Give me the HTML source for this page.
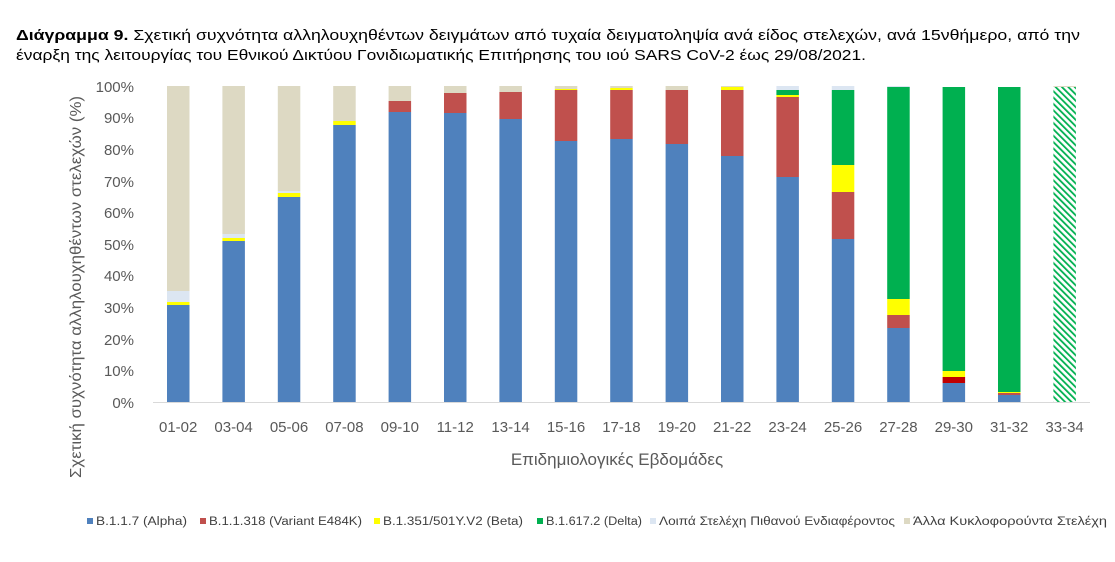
<!DOCTYPE html>
<html><head><meta charset="utf-8"><style>
html,body{margin:0;padding:0;background:#fff;width:1115px;height:562px;overflow:hidden}
svg{display:block}
text{font-family:"Liberation Sans",sans-serif}
</style></head><body>
<svg width="1115" height="562" viewBox="0 0 1115 562" xmlns="http://www.w3.org/2000/svg">
<defs>
<pattern id="hat" patternUnits="userSpaceOnUse" width="4.5" height="4.5" patternTransform="rotate(-45)">
<rect width="4.5" height="4.5" fill="#fff"/><rect width="1.8" height="4.5" fill="#00b050"/>
</pattern>
</defs>
<text x="16" y="40" font-size="15" textLength="1064" lengthAdjust="spacingAndGlyphs" fill="#000"><tspan font-weight="bold">Διάγραμμα 9.</tspan> Σχετική συχνότητα αλληλουχηθέντων δειγμάτων από τυχαία δειγματοληψία ανά είδος στελεχών, ανά 15νθήμερο, από την</text>
<text x="16" y="60" font-size="15" textLength="850" lengthAdjust="spacingAndGlyphs" fill="#000">έναρξη της λειτουργίας του Εθνικού Δικτύου Γονιδιωματικής Επιτήρησης του ιού SARS CoV-2 έως 29/08/2021.</text>
<g font-size="15" fill="#595959" text-anchor="end">
<text x="134" y="408">0%</text><text x="134" y="376">10%</text><text x="134" y="345">20%</text><text x="134" y="313">30%</text><text x="134" y="281">40%</text><text x="134" y="250">50%</text><text x="134" y="218">60%</text><text x="134" y="187">70%</text><text x="134" y="155">80%</text><text x="134" y="123">90%</text><text x="134" y="92">100%</text>
</g>
<text transform="translate(81,287) rotate(-90)" font-size="15.5" fill="#595959" text-anchor="middle" textLength="382" lengthAdjust="spacingAndGlyphs">Σχετική συχνότητα αλληλουχηθέντων στελεχών (%)</text>
<g id="bars"></g>
<line x1="153" y1="402.5" x2="1090" y2="402.5" stroke="#d9d9d9" stroke-width="1"/>
<g id="xl" font-size="15" fill="#595959" text-anchor="middle"></g>
<text x="617" y="465" font-size="17" fill="#595959" text-anchor="middle">Επιδημιολογικές Εβδομάδες</text>
<g font-size="11.5" fill="#404040">
<rect x="87" y="518" width="6" height="6" fill="#4f81bd"/><text x="96" y="525" textLength="91" lengthAdjust="spacingAndGlyphs">B.1.1.7 (Alpha)</text>
<rect x="200" y="518" width="6" height="6" fill="#c0504d"/><text x="209" y="525" textLength="153" lengthAdjust="spacingAndGlyphs">B.1.1.318 (Variant E484K)</text>
<rect x="374" y="518" width="6" height="6" fill="#ffff00"/><text x="383" y="525" textLength="140" lengthAdjust="spacingAndGlyphs">B.1.351/501Y.V2 (Beta)</text>
<rect x="537" y="518" width="6" height="6" fill="#00b050"/><text x="546" y="525" textLength="96" lengthAdjust="spacingAndGlyphs">B.1.617.2 (Delta)</text>
<rect x="650" y="518" width="6" height="6" fill="#dce6f2"/><text x="659" y="525" textLength="236" lengthAdjust="spacingAndGlyphs">Λοιπά Στελέχη Πιθανού Ενδιαφέροντος</text>
<rect x="904" y="518" width="6" height="6" fill="#ddd9c3"/><text x="913" y="525" textLength="194" lengthAdjust="spacingAndGlyphs">Άλλα Κυκλοφορούντα Στελέχη</text>
</g>
</svg>
<script>
var C={b:"#4f81bd",r:"#c0504d",y:"#ffff00",g:"#00b050",l:"#dce6f2",e:"#ddd9c3",d:"#c00000",h:"url(#hat)"};
var B=[
[["b",305,402],["y",302,305],["l",291,302],["e",86,291]],
[["b",241,402],["y",238,241],["l",234,238],["e",86,234]],
[["b",197,402],["y",193,197],["l",191,193],["e",86,191]],
[["b",125,402],["y",121,125],["e",86,121]],
[["b",112,402],["r",101,112],["e",86,101]],
[["b",113,402],["r",93,113],["e",86,93]],
[["b",119,402],["r",92,119],["e",86,92]],
[["b",141,402],["r",90,141],["y",89,90],["e",86,89]],
[["b",139,402],["r",90,139],["y",88,90],["e",86,88]],
[["b",144,402],["r",90,144],["e",86,90]],
[["b",156,402],["r",90,156],["y",87,90],["e",86,87]],
[["b",177,402],["r",97,177],["y",95,97],["g",90,95],["l",86,90]],
[["b",239,402],["r",192,239],["y",165,192],["g",90,165],["l",86,90]],
[["b",328,402],["r",315,328],["y",299,315],["g",87,299],["l",86,87]],
[["b",383,402],["d",377,383],["y",371,377],["g",87,371]],
[["b",395,402],["r",393,395],["y",392,393],["g",87,392]],
[["h",87,402],["e",86,87]]
];
var labs=["01-02","03-04","05-06","07-08","09-10","11-12","13-14","15-16","17-18","19-20","21-22","23-24","25-26","27-28","29-30","31-32","33-34"];
var ns="http://www.w3.org/2000/svg",g=document.getElementById("bars"),xl=document.getElementById("xl");
B.forEach(function(bar,i){var x=167+i*55.4;bar.forEach(function(s){var r=document.createElementNS(ns,"rect");r.setAttribute("x",x);r.setAttribute("y",s[1]);r.setAttribute("width",22.5);r.setAttribute("height",s[2]-s[1]);r.setAttribute("fill",C[s[0]]);g.appendChild(r);});
var t=document.createElementNS(ns,"text");t.setAttribute("x",x+11.2);t.setAttribute("y",432);t.textContent=labs[i];xl.appendChild(t);});
</script>
</body></html>
